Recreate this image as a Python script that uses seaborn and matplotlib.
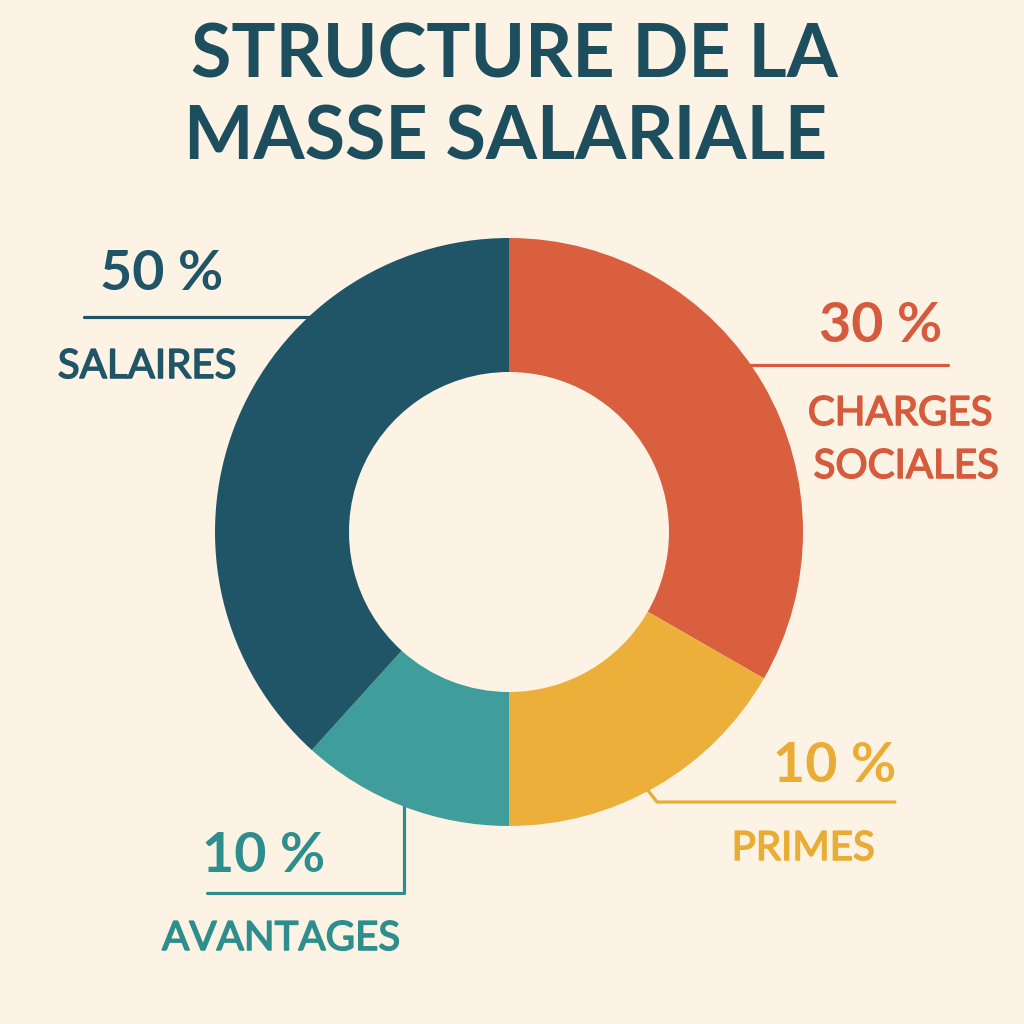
#Structure de la masse salariale

import seaborn as sns
import matplotlib.pyplot as plt
import matplotlib.patheffects as pe

# data
categories = ['CHARGES\nSOCIALES', 'PRIMES', 'AVANTAGES', 'SALAIRES']
pct_labels = ['30 %', '10 %', '10 %', '50 %']
# slice sizes as drawn in the picture (share of the ring)
shares = [33.3, 16.7, 11.7, 38.3]
colors = ['#d95f3f', '#ecb03a', '#3f9e9b', '#1f5566']
text_colors = ['#d65a3c', '#e9ad35', '#2e8d8d', '#1f5566']

sns.set_theme(style='white')
plt.rcParams['font.family'] = ['Lato', 'DejaVu Sans']

bg = '#fdf3e5'
fig = plt.figure(figsize=(10.24, 10.24), dpi=100, facecolor=bg)
ax = fig.add_axes([0, 0, 1, 1])
ax.set_facecolor(bg)

H = 1024
cx, cy = 509, H - 532
R = 294

ax.pie(shares, colors=colors, startangle=90, counterclock=False,
       center=(cx, cy), radius=R, frame=True,
       wedgeprops=dict(width=134, linewidth=0))
ax.set_xlim(0, 1024)
ax.set_ylim(0, 1024)
ax.set_aspect('equal')
ax.axis('off')

# leader lines (image pixel coords, y flipped)
lw = 2.3
ax.plot([84, 320], [H - 317, H - 317], color=text_colors[3], lw=lw, zorder=0)
ax.plot([740, 948], [H - 365, H - 365], color=text_colors[0], lw=lw, zorder=0)
ax.plot([640, 657, 895], [H - 780, H - 802, H - 802], color=text_colors[1], lw=lw, zorder=0)
ax.plot([404, 404, 207], [H - 795, H - 893, H - 893], color=text_colors[2], lw=lw, zorder=0)

# labels
pct_pos = [(881, 342), (835, 782), (264, 872), (162, 290)]
cat_pos = [(900, 425), (803, 860), (281, 950), (147, 378)]
for i in range(4):
    ax.text(pct_pos[i][0], H - pct_pos[i][1], pct_labels[i], color=text_colors[i],
            fontsize=40, fontweight='bold', ha='center', va='baseline')
    lines = categories[i].split('\n')
    for j, line in enumerate(lines):
        xx = cat_pos[i][0] + (6 * j if i == 0 else 0)
        ax.text(xx, H - cat_pos[i][1] - 53 * j, line, color=text_colors[i],
                fontsize=29, ha='center', va='baseline',
                path_effects=[pe.withStroke(linewidth=1.1, foreground=text_colors[i])])

# title
ax.text(514, H - 78, 'STRUCTURE DE LA', color='#1d4e5e', fontsize=53,
        fontweight='bold', ha='center', va='baseline')
ax.text(506, H - 160, 'MASSE SALARIALE', color='#1d4e5e', fontsize=53,
        fontweight='bold', ha='center', va='baseline')

plt.savefig('out.png', dpi=100, facecolor=bg)
